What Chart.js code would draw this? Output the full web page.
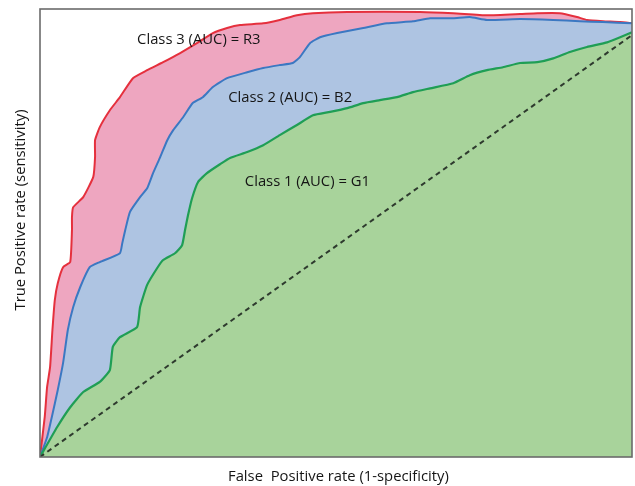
<!DOCTYPE html>
<html>
<head>
<meta charset="utf-8">
<script src="https://cdn.jsdelivr.net/npm/chart.js@4/dist/chart.umd.min.js"></script>
<style>
  html, body { margin: 0; padding: 0; background: #ffffff; }
  #wrap { width: 635px; height: 486px; position: relative; }
</style>
</head>
<body>
<div id="wrap"><canvas id="roc" width="635" height="486"></canvas></div>
<script>
// ROC curves: false positive rate (x) vs true positive rate (y)
const class3X = [0, 0.008, 0.012, 0.017, 0.021, 0.025, 0.030, 0.039, 0.051, 0.054, 0.054, 0.056, 0.073, 0.090, 0.093, 0.093, 0.101, 0.118, 0.135, 0.157, 0.181, 0.208, 0.236, 0.265, 0.292, 0.316, 0.338, 0.377, 0.405, 0.434, 0.461, 0.519, 0.642, 0.698, 0.755, 0.811, 0.840, 0.878, 0.907, 0.924, 0.951, 0.980, 1.0];
const class3Y = [0, 0.095, 0.166, 0.213, 0.301, 0.372, 0.412, 0.450, 0.462, 0.538, 0.569, 0.592, 0.616, 0.664, 0.711, 0.751, 0.782, 0.822, 0.853, 0.898, 0.917, 0.936, 0.957, 0.981, 1.005, 1.017, 1.024, 1.028, 1.036, 1.047, 1.052, 1.055, 1.055, 1.052, 1.047, 1.050, 1.052, 1.052, 1.043, 1.036, 1.033, 1.031, 1.028];

const class2X = [0, 0.012, 0.020, 0.030, 0.039, 0.047, 0.056, 0.068, 0.084, 0.101, 0.135, 0.139, 0.144, 0.152, 0.169, 0.181, 0.191, 0.203, 0.215, 0.225, 0.242, 0.258, 0.275, 0.292, 0.316, 0.350, 0.377, 0.405, 0.427, 0.439, 0.456, 0.473, 0.502, 0.546, 0.586, 0.630, 0.659, 0.698, 0.726, 0.755, 0.811, 0.867, 0.912, 0.951, 1.0];
const class2Y = [0, 0.047, 0.095, 0.159, 0.223, 0.301, 0.355, 0.403, 0.450, 0.462, 0.483, 0.507, 0.538, 0.581, 0.616, 0.637, 0.673, 0.711, 0.751, 0.775, 0.806, 0.839, 0.853, 0.877, 0.898, 0.912, 0.922, 0.929, 0.934, 0.948, 0.981, 0.995, 1.005, 1.017, 1.028, 1.033, 1.040, 1.040, 1.043, 1.036, 1.038, 1.036, 1.033, 1.031, 1.028];

const class1X = [0, 0.029, 0.051, 0.073, 0.101, 0.118, 0.123, 0.135, 0.164, 0.169, 0.181, 0.198, 0.208, 0.228, 0.240, 0.245, 0.250, 0.257, 0.267, 0.282, 0.304, 0.321, 0.350, 0.377, 0.405, 0.434, 0.461, 0.490, 0.519, 0.546, 0.574, 0.603, 0.630, 0.659, 0.698, 0.726, 0.755, 0.782, 0.811, 0.840, 0.867, 0.895, 0.924, 0.958, 0.980, 1.0];
const class1Y = [0, 0.071, 0.118, 0.154, 0.178, 0.206, 0.261, 0.284, 0.308, 0.355, 0.408, 0.448, 0.467, 0.483, 0.502, 0.538, 0.573, 0.614, 0.652, 0.673, 0.694, 0.709, 0.723, 0.739, 0.763, 0.787, 0.810, 0.818, 0.827, 0.839, 0.846, 0.853, 0.865, 0.874, 0.886, 0.905, 0.917, 0.924, 0.934, 0.936, 0.945, 0.960, 0.972, 0.983, 0.995, 1.007];

// chance line
const chanceX = [0, 1];
const chanceY = [0, 1];

const seriesNames = ['Class 3 (AUC) = R3', 'Class 2 (AUC) = B2', 'Class 1 (AUC) = G1'];
// label anchors in data units (FPR, TPR)
const labelX = [0.164, 0.318, 0.346];
const labelY = [0.988, 0.851, 0.652];

const xTitle = 'False  Positive rate (1-specificity)';
const yTitle = 'True Positive rate (sensitivity)';

const toPoints = (xs, ys) => xs.map((x, i) => ({ x: x, y: ys[i] }));

const FONT = '"Open Sans", "DejaVu Sans", sans-serif';

const decorations = {
  id: 'decorations',
  afterDraw(chart) {
    const { ctx, chartArea: a, scales } = chart;
    ctx.save();
    // frame
    ctx.strokeStyle = '#6b6b6b';
    ctx.lineWidth = 1.6;
    ctx.strokeRect(a.left, a.top, a.right - a.left, a.bottom - a.top);
    // curve labels
    ctx.fillStyle = '#151515';
    ctx.font = '14.8px ' + FONT;
    ctx.textAlign = 'left';
    ctx.textBaseline = 'middle';
    seriesNames.forEach((t, i) => {
      ctx.fillText(t, scales.x.getPixelForValue(labelX[i]), scales.y.getPixelForValue(labelY[i]));
    });
    // axis titles
    ctx.font = '14.8px ' + FONT;
    ctx.textAlign = 'left';
    ctx.fillText(xTitle, 228, 477);
    ctx.translate(21, 210);
    ctx.rotate(-Math.PI / 2);
    ctx.textAlign = 'center';
    ctx.fillText(yTitle, 0, 0);
    ctx.restore();
  }
};

new Chart(document.getElementById('roc'), {
  type: 'line',
  data: {
    datasets: [
      {
        label: 'chance',
        data: toPoints(chanceX, chanceY),
        borderColor: '#2e3a2e',
        borderWidth: 2,
        borderDash: [5, 4],
        fill: false,
        pointRadius: 0,
        order: 0
      },
      {
        label: seriesNames[2],
        data: toPoints(class1X, class1Y),
        borderColor: '#1f9e55',
        backgroundColor: '#a8d39b',
        borderWidth: 2.2,
        fill: 'start',
        pointRadius: 0,
        tension: 0.15,
        order: 1
      },
      {
        label: seriesNames[1],
        data: toPoints(class2X, class2Y),
        borderColor: '#3b78c2',
        backgroundColor: '#aec4e2',
        borderWidth: 2,
        fill: 'start',
        pointRadius: 0,
        tension: 0.15,
        order: 2
      },
      {
        label: seriesNames[0],
        data: toPoints(class3X, class3Y),
        borderColor: '#e5303d',
        backgroundColor: '#eea6c0',
        borderWidth: 2,
        fill: 'start',
        pointRadius: 0,
        tension: 0.15,
        order: 3
      }
    ]
  },
  options: {
    responsive: false,
    animation: false,
    layout: { padding: { left: 40, right: 3, top: 9, bottom: 29 } },
    scales: {
      x: { type: 'linear', min: 0, max: 1, display: false },
      y: { type: 'linear', min: 0, max: 1.062, display: false }
    },
    plugins: {
      legend: { display: false },
      tooltip: { enabled: false }
    }
  },
  plugins: [decorations]
});
</script>
</body>
</html>
